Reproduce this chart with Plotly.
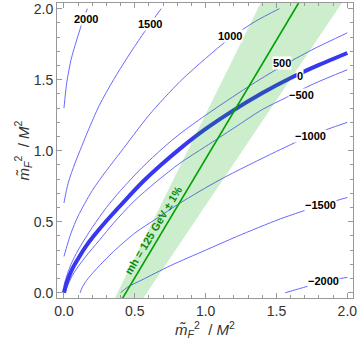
import plotly.graph_objects as go

# ---- contour lines (x = m_F^2/M^2, y = m_F~^2/M^2) ----
c2000_x = [0.0, 0.02, 0.05, 0.09, 0.125, 0.165]
c2000_y = [1.30, 1.48, 1.64, 1.78, 1.89, 2.0]

c1500_x = [0.0, 0.03, 0.078, 0.113, 0.17, 0.25, 0.35, 0.45, 0.55, 0.686]
c1500_y = [0.632, 0.773, 0.913, 1.0, 1.14, 1.32, 1.50, 1.66, 1.81, 2.0]

c1000_x = [0.0, 0.05, 0.10, 0.20, 0.30, 0.40, 0.60, 0.82, 1.0, 1.17, 1.35, 1.52]
c1000_y = [0.256, 0.42, 0.54, 0.72, 0.86, 0.99, 1.25, 1.488, 1.65, 1.79, 1.91, 2.0]

c500_x = [0.0, 0.02, 0.05, 0.10, 0.20, 0.30, 0.40, 0.55, 0.70, 0.82, 1.0, 1.3, 1.53, 1.75, 2.0]
c500_y = [0.05, 0.12, 0.20, 0.30, 0.46, 0.60, 0.72, 0.88, 1.02, 1.12, 1.25, 1.45, 1.59, 1.71, 1.83]

c0_x = [0.0, 0.01, 0.03, 0.06, 0.10, 0.15, 0.207, 0.29, 0.372, 0.46, 0.56, 0.69, 0.82, 1.0, 1.185, 1.4, 1.6, 1.8, 2.0]
c0_y = [0.0, 0.04, 0.10, 0.17, 0.24, 0.32, 0.396, 0.495, 0.585, 0.681, 0.785, 0.905, 1.015, 1.153, 1.277, 1.406, 1.512, 1.604, 1.688]

cm500_x = [0.01, 0.03, 0.07, 0.15, 0.25, 0.35, 0.49, 0.65, 0.82, 1.0, 1.2, 1.4, 1.57, 1.76, 2.0]
cm500_y = [0.0, 0.06, 0.14, 0.25, 0.37, 0.49, 0.64, 0.78, 0.913, 1.03, 1.16, 1.29, 1.375, 1.47, 1.57]

cm1000_x = [0.115, 0.13, 0.17, 0.25, 0.35, 0.50, 0.65, 0.82, 1.10, 1.50, 1.75, 2.0]
cm1000_y = [0.0, 0.04, 0.10, 0.19, 0.29, 0.42, 0.52, 0.632, 0.795, 0.995, 1.11, 1.20]

cm1500_x = [0.40, 0.45, 0.55, 0.75, 1.0, 1.22, 1.527, 1.81, 2.0]
cm1500_y = [0.0, 0.04, 0.09, 0.19, 0.30, 0.396, 0.52, 0.615, 0.671]

cm2000_x = [1.562, 1.715, 1.833, 1.95, 2.0]
cm2000_y = [0.0, 0.044, 0.075, 0.10, 0.108]

# contour labels
label_text = ["2000", "1500", "1000", "500", "0", "\u2212500", "\u22121000", "\u22121500", "\u22122000"]
label_x = [0.155, 0.608, 1.175, 1.538, 1.663, 1.673, 1.739, 1.814, 1.833]
label_y = [1.927, 1.894, 1.81, 1.618, 1.523, 1.394, 1.106, 0.618, 0.080]

# m_h = 125 GeV +- 1% band and central line
band_y = [-0.04, 2.04]
band_left_x = [0.358, 1.388]
band_right_x = [0.558, 1.961]
mh_line_x = [0.413, 1.656]
mh_line_y = [-0.04, 2.04]

xticks = [0.0, 0.5, 1.0, 1.5, 2.0]
yticks = [0.0, 0.5, 1.0, 1.5, 2.0]

THIN = "rgb(105,105,255)"
THICK = "rgb(55,55,240)"

fig = go.Figure()
thin_sets = [(c2000_x, c2000_y), (c1500_x, c1500_y), (c1000_x, c1000_y), (c500_x, c500_y),
             (cm500_x, cm500_y), (cm1000_x, cm1000_y), (cm1500_x, cm1500_y), (cm2000_x, cm2000_y)]
for xs, ys in thin_sets:
    fig.add_trace(go.Scatter(x=xs, y=ys, mode="lines",
                             line=dict(color=THIN, width=1, shape="spline", smoothing=0.8),
                             hoverinfo="skip", showlegend=False))
fig.add_trace(go.Scatter(x=c0_x, y=c0_y, mode="lines",
                         line=dict(color=THICK, width=4, shape="spline", smoothing=0.8),
                         hoverinfo="skip", showlegend=False))

# band polygon
poly_x = band_left_x + band_right_x[::-1]
poly_y = band_y + band_y[::-1]
fig.add_trace(go.Scatter(x=poly_x + [poly_x[0]], y=poly_y + [poly_y[0]], mode="lines", fill="toself",
                         fillcolor="rgba(0,170,0,0.2)", line=dict(width=0), hoverinfo="skip", showlegend=False))
fig.add_trace(go.Scatter(x=mh_line_x, y=mh_line_y, mode="lines", line=dict(color="#00a000", width=1.6),
                         hoverinfo="skip", showlegend=False))

for t, x, y in zip(label_text, label_x, label_y):
    fig.add_annotation(x=x, y=y, text="<b>" + t + "</b>", showarrow=False, bgcolor="white", borderpad=0,
                       font=dict(family="Liberation Sans, Arial", size=11, color="black"))

fig.add_annotation(x=0.633, y=0.44, text="<b>mh = 125 GeV \u00b1 1%</b>", showarrow=False, textangle=-59,
                   font=dict(family="Liberation Sans, Arial", size=11, color="#0a8a0a"))

axis_common = dict(showgrid=False, zeroline=False, showline=True, linecolor="#999999", linewidth=1,
                   mirror="allticks", ticks="inside", ticklen=5, tickcolor="#999999", tickwidth=1,
                   automargin=False,
                   tickfont=dict(family="Liberation Sans, Arial", size=14, color="#333333"),
                   minor=dict(ticks="inside", ticklen=3, dtick=0.1, tickcolor="#999999", showgrid=False))

title_text = "<i>m\u0303</i><sub><i>F</i></sub><sup>2</sup>  / <i>M</i><sup>2</sup>"
fig.update_xaxes(range=[-0.049, 2.04], tickvals=xticks, tickformat=".1f",
                 title=dict(text=title_text,
                            font=dict(family="Liberation Sans, Arial", size=15, color="#333333"), standoff=5),
                 **axis_common)
fig.update_yaxes(range=[-0.037, 2.04], tickvals=yticks, tickformat=".1f",
                 title=dict(text=title_text,
                            font=dict(family="Liberation Sans, Arial", size=15, color="#333333"), standoff=0),
                 **axis_common)

fig.update_layout(width=360, height=351, margin=dict(l=57, r=7, t=3, b=53),
                  plot_bgcolor="white", paper_bgcolor="white", showlegend=False)

fig.write_html("out.html", config={"displayModeBar": False},
               post_script="document.body.style.margin='0px';document.body.style.overflow='hidden';")
